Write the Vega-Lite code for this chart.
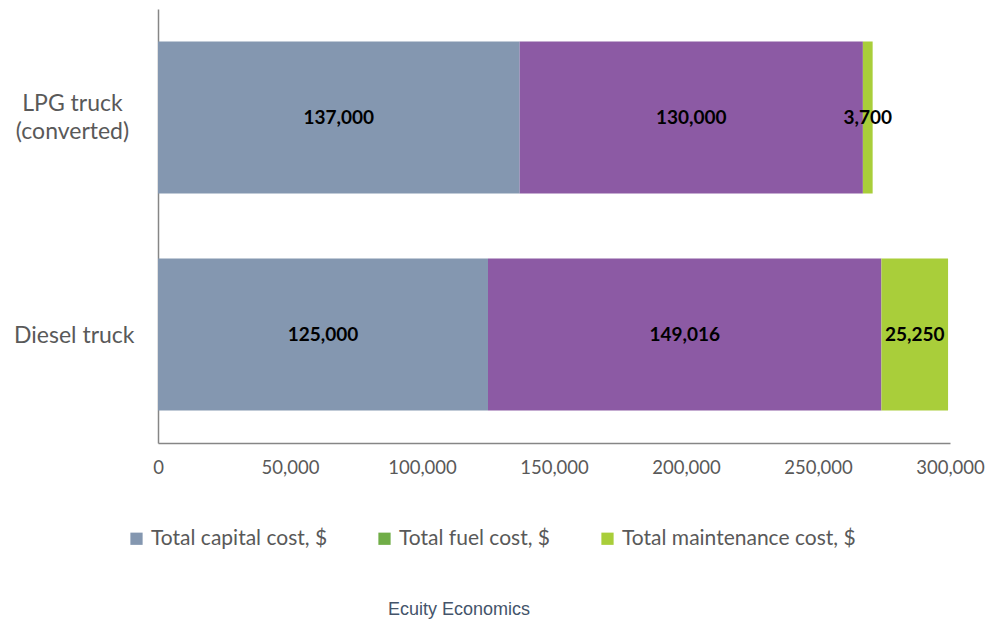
{
  "$schema": "https://vega.github.io/schema/vega-lite/v6.json",
  "autosize": "none",
  "width": 792,
  "height": 434,
  "padding": {"left": 158, "top": 9, "right": 39, "bottom": 178},
  "background": "white",
  "title": {
    "text": "Ecuity Economics",
    "orient": "bottom",
    "anchor": "middle",
    "dx": -95,
    "offset": 52,
    "font": "Liberation Sans",
    "fontSize": 18,
    "fontWeight": "normal",
    "color": "#44546A"
  },
  "data": {
    "values": [
      {"vehicle": "LPG truck (converted)", "cost": "Total capital cost, $", "value": 137000},
      {"vehicle": "LPG truck (converted)", "cost": "Total fuel cost, $", "value": 130000},
      {"vehicle": "LPG truck (converted)", "cost": "Total maintenance cost, $", "value": 3700},
      {"vehicle": "Diesel truck", "cost": "Total capital cost, $", "value": 125000},
      {"vehicle": "Diesel truck", "cost": "Total fuel cost, $", "value": 149016},
      {"vehicle": "Diesel truck", "cost": "Total maintenance cost, $", "value": 25250}
    ]
  },
  "transform": [
    {"stack": "value", "groupby": ["vehicle"], "sort": [{"field": "cost", "order": "ascending"}], "as": ["v0", "v1"]},
    {"calculate": "(datum.v0 + datum.v1) / 2", "as": "mid"}
  ],
  "encoding": {
    "y": {
      "field": "vehicle",
      "type": "nominal",
      "sort": ["LPG truck (converted)", "Diesel truck"],
      "scale": {"paddingInner": 0.3, "paddingOuter": 0.15},
      "axis": {
        "title": null,
        "ticks": false,
        "domainColor": "#868686",
        "domainWidth": 1.5,
        "labelFont": "Lato",
        "labelFontSize": 23,
        "labelColor": "#595959",
        "labelLineHeight": 28,
        "labelExpr": "datum.value == 'LPG truck (converted)' ? ['LPG truck', '(converted)'] : datum.value",
        "labelAlign": {"condition": {"test": "datum.value == 'LPG truck (converted)'", "value": "center"}, "value": "right"},
        "labelPadding": {"condition": {"test": "datum.value == 'LPG truck (converted)'", "value": 86}, "value": 24},
        "labelOffset": {"condition": {"test": "datum.value == 'LPG truck (converted)'", "value": -14}, "value": 1}
      }
    }
  },
  "layer": [
    {
      "mark": {"type": "bar"},
      "encoding": {
        "x": {
          "field": "v0",
          "type": "quantitative",
          "scale": {"domain": [0, 300000], "nice": false},
          "axis": {
            "title": null,
            "ticks": false,
            "grid": false,
            "values": [0, 50000, 100000, 150000, 200000, 250000, 300000],
            "format": ",d",
            "domainColor": "#868686",
            "domainWidth": 1.5,
            "labelFont": "Lato",
            "labelFontSize": 18.5,
            "labelColor": "#595959",
            "labelPadding": 15,
            "labelFlush": false,
            "labelOverlap": false
          }
        },
        "x2": {"field": "v1"},
        "color": {
          "field": "cost",
          "type": "nominal",
          "scale": {
            "domain": ["Total capital cost, $", "Total fuel cost, $", "Total maintenance cost, $"],
            "range": ["#8497B0", "#70AD47", "#A9CE3A"]
          },
          "condition": {"test": "datum.cost === 'Total fuel cost, $'", "value": "#8C5AA4"},
          "legend": {
            "title": null,
            "orient": "none",
            "direction": "horizontal",
            "legendX": -32,
            "legendY": 519,
            "symbolType": "square",
            "symbolSize": 150,
            "symbolStrokeWidth": 0,
            "labelFont": "Lato",
            "labelFontSize": 21,
            "labelColor": "#595959",
            "labelOffset": 4,
            "columnPadding": 46,
            "labelLimit": 400
          }
        }
      }
    },
    {
      "mark": {"type": "text", "font": "Lato", "fontWeight": "bold", "fontSize": 19, "color": "black"},
      "encoding": {
        "x": {"field": "mid", "type": "quantitative"},
        "text": {"field": "value", "type": "quantitative", "format": ",d"}
      }
    }
  ],
  "config": {"view": {"stroke": null}}
}
